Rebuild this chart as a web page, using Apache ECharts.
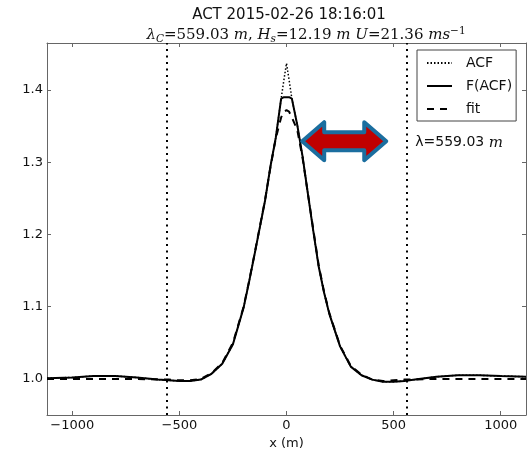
<!DOCTYPE html>
<html>
<head>
<meta charset="utf-8">
<script src="https://cdn.jsdelivr.net/npm/echarts@6/dist/echarts.min.js"></script>
<style>
html,body{margin:0;padding:0;background:#fff;}
#chart{width:531px;height:457px;}
</style>
</head>
<body>
<div id="chart"></div>
<script>
// ---- data ----
const xValues = [-1118, -1000, -900, -800, -700, -600, -550, -500, -450, -400, -350, -300, -250, -200, -175, -150, -125, -100, -75, -50, -25, -12, 0, 12, 25, 50, 75, 100, 125, 150, 175, 200, 250, 300, 350, 400, 450, 500, 550, 600, 700, 800, 900, 1000, 1118];
const acfValues = [1.001, 1.002, 1.004, 1.004, 1.002, 0.999, 0.998, 0.997, 0.997, 0.999, 1.007, 1.021, 1.048, 1.099, 1.134, 1.171, 1.209, 1.247, 1.294, 1.334, 1.388, 1.414, 1.437, 1.414, 1.388, 1.352, 1.308, 1.256, 1.205, 1.156, 1.120, 1.090, 1.045, 1.017, 1.005, 0.999, 0.996, 0.996, 0.997, 0.999, 1.003, 1.005, 1.005, 1.004, 1.003];
const facfValues = [1.001, 1.002, 1.004, 1.004, 1.002, 0.999, 0.998, 0.997, 0.997, 0.999, 1.007, 1.021, 1.048, 1.099, 1.134, 1.171, 1.209, 1.247, 1.294, 1.334, 1.388, 1.390, 1.390, 1.390, 1.388, 1.352, 1.308, 1.256, 1.205, 1.156, 1.120, 1.090, 1.045, 1.017, 1.005, 0.999, 0.996, 0.996, 0.997, 0.999, 1.003, 1.005, 1.005, 1.004, 1.003];
const fitValues = [1.000, 1.000, 1.000, 1.000, 1.000, 0.999, 0.999, 0.998, 0.998, 1.000, 1.008, 1.022, 1.050, 1.100, 1.135, 1.172, 1.210, 1.248, 1.293, 1.333, 1.362, 1.370, 1.372, 1.370, 1.362, 1.345, 1.306, 1.256, 1.207, 1.158, 1.121, 1.091, 1.046, 1.018, 1.006, 0.999, 0.997, 0.998, 0.999, 0.999, 1.000, 1.000, 1.000, 1.000, 1.000];
const seriesNames = ['ACF', 'F(ACF)', 'fit'];
const wavelengthLines = [-559.03, 559.03];
const xTicks = [-1000, -500, 0, 500, 1000];
const yTicks = [1.0, 1.1, 1.2, 1.3, 1.4];
const xRange = [-1118.06, 1118.06];
const yRange = [0.95, 1.465];
const titleText = 'ACT 2015-02-26 18:16:01';
const arrowSpan = [64, 475];
const arrowLevel = 1.329;
// --------------------------------------

const pairs = vals => xValues.map((x, i) => [x, vals[i]]);
const fmtX = v => (v < 0 ? '\u2212' + Math.abs(v) : String(v));
const axisCol = '#666';
const font = 'DejaVu Sans';

const chart = echarts.init(document.getElementById('chart'), null, {renderer: 'canvas'});

const commonX = {
  type: 'value', min: xRange[0], max: xRange[1],
  splitLine: {show: false},
  axisLine: {show: true, onZero: false, lineStyle: {color: axisCol, width: 1}},
  axisTick: {show: true, inside: true, length: 4, customValues: xTicks, lineStyle: {color: axisCol}},
};
const commonY = {
  type: 'value', min: yRange[0], max: yRange[1],
  splitLine: {show: false},
  axisLine: {show: true, onZero: false, lineStyle: {color: axisCol, width: 1}},
  axisTick: {show: true, inside: true, length: 4, customValues: yTicks, lineStyle: {color: axisCol}},
};

chart.setOption({
  animation: false,
  backgroundColor: '#fff',
  title: [
    {text: titleText, left: 284, top: 3, textAlign: 'center',
     textStyle: {fontFamily: font, fontSize: 15, fontWeight: 'normal', color: '#111'}},
    {text: '{it|λ}{sub|C}{n|=559.03 }{it|m}{n|, }{it|H}{sub|s}{n|=12.19 }{it|m U}{n|=21.36 }{it|ms}{sup|−1}',
     left: 301, top: 21, textAlign: 'center',
     textStyle: {
       fontFamily: 'DejaVu Serif', fontSize: 15, fontWeight: 'normal', color: '#111',
       rich: {
         n: {fontFamily: 'DejaVu Serif', fontSize: 15, color: '#111', lineHeight: 19},
         it: {fontFamily: 'DejaVu Serif', fontStyle: 'italic', fontSize: 15, color: '#111', lineHeight: 19},
         sub: {fontFamily: 'DejaVu Serif', fontStyle: 'italic', fontSize: 10.5, color: '#111', lineHeight: 10, verticalAlign: 'bottom'},
         sup: {fontFamily: 'DejaVu Serif', fontSize: 10.5, color: '#111', lineHeight: 10, verticalAlign: 'top'}
       }
     }}
  ],
  grid: {left: 47, right: 5, top: 43, bottom: 42, show: false},
  legend: {
    data: seriesNames, orient: 'vertical', left: 417, top: 50,
    padding: [6, 4, 5, 9], itemGap: 9, itemWidth: 25, itemHeight: 14,
    borderColor: '#444', borderWidth: 1, backgroundColor: '#fff',
    itemStyle: {opacity: 0},
    textStyle: {fontFamily: font, fontSize: 14, color: '#111', padding: [0, 0, 0, 9]},
    selectedMode: false
  },
  xAxis: [
    Object.assign({}, commonX, {
      position: 'bottom', name: 'x (m)', nameLocation: 'middle', nameGap: 12,
      nameTextStyle: {fontFamily: font, fontSize: 13, color: '#111'},
      axisLabel: {show: true, margin: 4, customValues: xTicks, formatter: fmtX,
                  fontFamily: font, fontSize: 13, color: '#111'}
    }),
    Object.assign({}, commonX, {position: 'top', axisLabel: {show: false}})
  ],
  yAxis: [
    Object.assign({}, commonY, {
      position: 'left',
      axisLabel: {show: true, margin: 4, customValues: yTicks, formatter: v => v.toFixed(1),
                  fontFamily: font, fontSize: 13, color: '#111'}
    }),
    Object.assign({}, commonY, {position: 'right', axisLabel: {show: false}})
  ],
  series: [
    {name: seriesNames[0], type: 'line', data: pairs(acfValues), symbol: 'none', showSymbol: false,
     lineStyle: {color: '#000', width: 1.5, type: [1.5, 2]}, itemStyle: {color: '#000'}, z: 2,
     emphasis: {disabled: true},
     markLine: {silent: true, symbol: 'none', label: {show: false},
                lineStyle: {color: '#000', width: 2, type: [2, 4.5]},
                data: wavelengthLines.map(v => ({xAxis: v}))}},
    {name: seriesNames[1], type: 'line', data: pairs(facfValues), symbol: 'none', showSymbol: false,
     lineStyle: {color: '#000', width: 2, type: 'solid'}, itemStyle: {color: '#000'}, z: 3,
     emphasis: {disabled: true}},
    {name: seriesNames[2], type: 'line', data: pairs(fitValues), symbol: 'none', showSymbol: false,
     lineStyle: {color: '#000', width: 2, type: [7, 6]}, itemStyle: {color: '#000'}, z: 4,
     emphasis: {disabled: true}}
  ]
});

// annotation arrow + wavelength label
const p1 = chart.convertToPixel({gridIndex: 0}, [arrowSpan[0], arrowLevel]);
const p2 = chart.convertToPixel({gridIndex: 0}, [arrowSpan[1], arrowLevel]);
const yc = p1[1], tl = p1[0] + 2, tr = p2[0] - 2, hl = tl + 22, hr = tr - 22;
const lblPos = chart.convertToPixel({gridIndex: 0}, [wavelengthLines[1], arrowLevel]);
chart.setOption({
  graphic: [
    {type: 'polygon', z: 100,
     shape: {points: [[tl, yc], [hl, yc - 19], [hl, yc - 9], [hr, yc - 9], [hr, yc - 19], [tr, yc],
                      [hr, yc + 19], [hr, yc + 9], [hl, yc + 9], [hl, yc + 19]]},
     style: {fill: '#c00000', stroke: '#1b6e9f', lineWidth: 4, lineJoin: 'round'}},
    {type: 'text', z: 100, x: lblPos[0] + 9, y: lblPos[1] - 6,
     style: {text: '{n|λ=559.03 }{it|m}', fill: '#111',
             rich: {n: {fontFamily: font, fontSize: 14, fill: '#111'},
                    it: {fontFamily: 'DejaVu Serif', fontStyle: 'italic', fontSize: 15, fill: '#111'}}}}
  ]
});
</script>
</body>
</html>
